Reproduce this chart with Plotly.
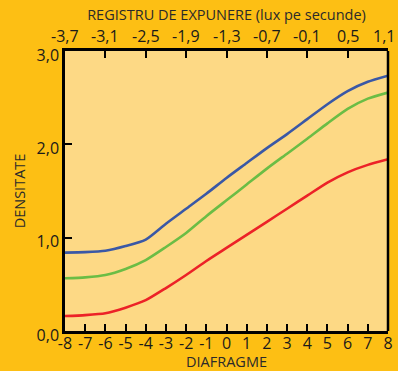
import plotly.graph_objects as go

# Exposure in stops (diafragme) along the bottom axis
stops = [-8, -7, -6, -5, -4, -3, -2, -1, 0, 1, 2, 3, 4, 5, 6, 7, 8]

# Density curves for the three emulsions
blue_density = [0.84, 0.845, 0.86, 0.91, 0.98, 1.15, 1.31, 1.47, 1.64, 1.80,
                1.96, 2.11, 2.27, 2.43, 2.57, 2.67, 2.735]
green_density = [0.565, 0.575, 0.60, 0.665, 0.76, 0.90, 1.05, 1.23, 1.40, 1.57,
                 1.74, 1.90, 2.06, 2.225, 2.38, 2.49, 2.555]
red_density = [0.16, 0.17, 0.19, 0.25, 0.33, 0.46, 0.60, 0.75, 0.89, 1.03,
               1.17, 1.31, 1.45, 1.59, 1.70, 1.78, 1.84]

# Tick labels
bottom_ticks = stops
top_tick_vals = [-8, -6, -4, -2, 0, 2, 4, 6, 8]
top_tick_text = ["-3,7", "-3,1", "-2,5", "-1,9", "-1,3", "-0,7", "-0,1", "0,5", "1,1"]
y_tick_vals = [0, 1, 2, 3]
y_tick_text = ["0,0", "1,0", "2,0", "3,0"]

FONT = "Open Sans"
BG = "#FDBF14"
PLOT_BG = "#FDD985"
TITLE_FONT = dict(family=FONT, size=14.5, color="#2a2a2a")
TICK_FONT = dict(family=FONT, size=16, color="#1a1a1a")

fig = go.Figure()
for ys, col in [(red_density, "#EC2227"), (green_density, "#6BBD45"), (blue_density, "#3A58A6")]:
    fig.add_trace(go.Scatter(x=stops, y=ys, mode="lines",
                             line=dict(color=col, width=2.6, shape="spline", smoothing=0.6),
                             showlegend=False, hoverinfo="skip"))
# carrier trace so the top axis is drawn
fig.add_trace(go.Scatter(x=[stops[0], stops[-1]], y=[0, 0], xaxis="x2", mode="lines",
                         line=dict(width=0), showlegend=False, hoverinfo="skip"))

axis_common = dict(showgrid=False, zeroline=False, showline=True, linecolor="black",
                   linewidth=2.5, ticks="inside", ticklen=7, tickwidth=2, tickcolor="black",
                   automargin=False, ticklabeloverflow="allow", tickfont=TICK_FONT)

fig.update_layout(
    width=398, height=371,
    margin=dict(l=65, r=10, t=51, b=40),
    paper_bgcolor=BG, plot_bgcolor=PLOT_BG,
    xaxis=dict(range=[-8, 8], tickvals=bottom_ticks, ticktext=[str(v) for v in bottom_ticks],
               ticklabelstandoff=-4,
               title=dict(text="DIAFRAGME", font=TITLE_FONT, standoff=4),
               **axis_common),
    xaxis2=dict(range=[-8, 8], overlaying="x", side="top", tickvals=top_tick_vals,
                showticklabels=False,
                title=dict(text="REGISTRU DE EXPUNERE (lux pe secunde)", font=TITLE_FONT, standoff=25),
                **axis_common),
    yaxis=dict(range=[0, 3], tickvals=y_tick_vals, ticktext=y_tick_text,
               ticklabelshift=4,
               title=dict(text="DENSITATE", font=TITLE_FONT, standoff=8),
               **axis_common),
)

# exposure labels along the top axis; the last one is kept inside the page edge
for i, (v, t) in enumerate(zip(top_tick_vals, top_tick_text)):
    last = i == len(top_tick_vals) - 1
    fig.add_annotation(x=v, xref="x2", y=1, yref="paper", text=t, showarrow=False,
                       font=TICK_FONT, yanchor="bottom", yshift=2,
                       xanchor="right" if last else "center", xshift=9 if last else 0)

# right border of the plot frame
fig.add_shape(type="line", xref="paper", yref="paper", x0=1, x1=1, y0=0, y1=1,
              line=dict(color="black", width=2.5))

fig.write_html("out.html")
